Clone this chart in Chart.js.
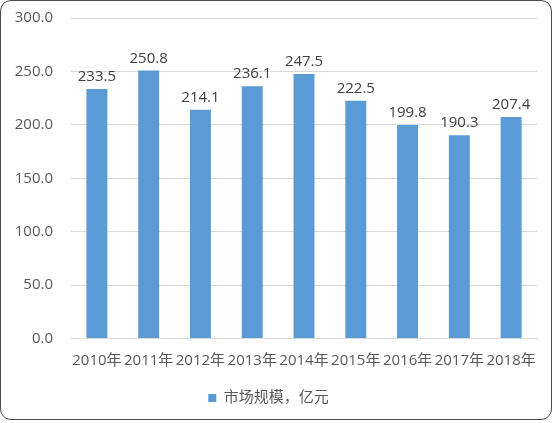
<!DOCTYPE html>
<html>
<head>
<meta charset="utf-8">
<script src="https://cdn.jsdelivr.net/npm/chart.js@4"></script>
<style>
html,body{margin:0;padding:0;background:#fff;}
#wrap{position:relative;width:554px;height:423px;}
#frame{position:absolute;left:0;top:0;width:550px;height:418px;border:1.5px solid #4a4a4a;border-radius:11px;pointer-events:none;}
canvas{position:absolute;left:0;top:0;}
</style>
</head>
<body>
<div id="wrap">
<canvas id="c" width="554" height="423"></canvas>
<div id="frame"></div>
</div>
<script>
const categories = ['2010年','2011年','2012年','2013年','2014年','2015年','2016年','2017年','2018年'];
const marketSize = [233.5, 250.8, 214.1, 236.1, 247.5, 222.5, 199.8, 190.3, 207.4];
const seriesName = '市场规模，亿元';
const yTicks = [0, 50, 100, 150, 200, 250, 300];

const FONT = '"Open Sans", "Noto Sans CJK SC", sans-serif';

const labelPlugin = {
  id: 'barLabels',
  afterDatasetsDraw(chart) {
    const ctx = chart.ctx;
    const meta = chart.getDatasetMeta(0);
    ctx.save();
    ctx.font = '15px ' + FONT;
    ctx.fillStyle = '#404040';
    ctx.textAlign = 'center';
    ctx.textBaseline = 'alphabetic';
    meta.data.forEach((bar, i) => {
      ctx.fillText(chart.data.datasets[0].data[i].toFixed(1), bar.x, bar.y - 8);
    });
    ctx.restore();
  }
};

new Chart(document.getElementById('c'), {
  type: 'bar',
  data: {
    labels: categories,
    datasets: [{
      label: seriesName,
      data: marketSize,
      backgroundColor: '#5B9BD5',
      borderWidth: 0,
      categoryPercentage: 1,
      barPercentage: 0.405
    }]
  },
  options: {
    responsive: false,
    animation: false,
    devicePixelRatio: 1,
    layout: { padding: { top: 18, right: 17, bottom: 7.5, left: 0 } },
    plugins: {
      legend: {
        position: 'bottom',
        labels: {
          usePointStyle: true,
          pointStyle: 'rect',
          boxWidth: 8,
          boxHeight: 8,
          padding: 7,
          color: '#595959',
          font: { family: FONT, size: 15 }
        }
      },
      tooltip: { enabled: false }
    },
    scales: {
      x: {
        afterFit(scale) { scale.height = 45; },
        grid: { display: false, drawTicks: false },
        border: { display: true, color: '#D9D9D9' },
        ticks: {
          color: '#595959',
          font: { family: FONT, size: 15 },
          padding: 13,
          maxRotation: 0,
          minRotation: 0,
          autoSkip: false
        }
      },
      y: {
        min: 0,
        max: 300,
        afterFit(scale) { scale.width = 71; scale.paddingTop = 0; scale.paddingBottom = 0; },
        afterBuildTicks(scale) { scale.ticks = yTicks.map(v => ({ value: v })); },
        grid: { color: '#D9D9D9', drawTicks: false },
        border: { display: false },
        ticks: {
          color: '#595959',
          font: { family: FONT, size: 15 },
          padding: 18,
          callback: v => Number(v).toFixed(1)
        }
      }
    }
  },
  plugins: [labelPlugin]
});
</script>
</body>
</html>
